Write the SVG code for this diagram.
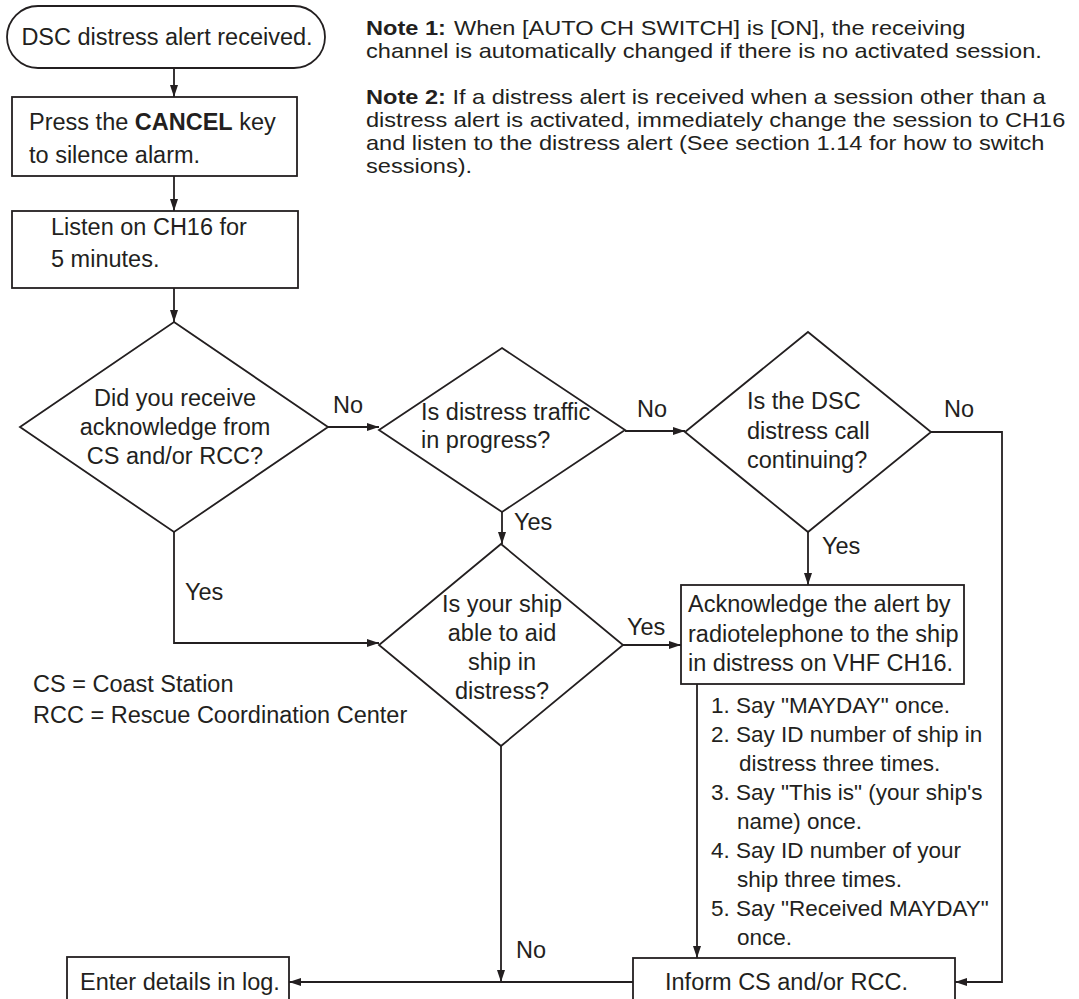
<svg xmlns="http://www.w3.org/2000/svg" width="1079" height="999" viewBox="0 0 1079 999">
<defs>
<marker id="ah" markerWidth="12" markerHeight="8" refX="12" refY="4" orient="auto" markerUnits="userSpaceOnUse">
<path d="M0,0 L12,4 L0,8 Z" fill="#231f20"/>
</marker>
<style>
.t{font-family:"Liberation Sans",Arial,sans-serif;font-size:23.5px;fill:#231f20}
.n{font-family:"Liberation Sans",Arial,sans-serif;font-size:20.5px;fill:#231f20}
.li{font-family:"Liberation Sans",Arial,sans-serif;font-size:22.5px;fill:#231f20}
.c{text-anchor:middle}
.b{font-weight:bold}
.s{fill:#fff;stroke:#231f20;stroke-width:1.8}
.l{fill:none;stroke:#231f20;stroke-width:1.8}
.a{fill:none;stroke:#231f20;stroke-width:1.8;marker-end:url(#ah)}
</style>
</defs>
<rect width="1079" height="999" fill="#fff"/>

<g id="notes" transform="translate(366,0) scale(1.15,1)">
<text class="n" x="0" y="35"><tspan class="b">Note 1:</tspan><tspan dx="7">When [AUTO CH SWITCH] is [ON], the receiving</tspan></text>
<text class="n" x="0" y="58">channel is automatically changed if there is no activated session.</text>
<text class="n" x="0" y="104"><tspan class="b">Note 2:</tspan> If a distress alert is received when a session other than a</text>
<text class="n" x="0" y="127">distress alert is activated, immediately change the session to CH16</text>
<text class="n" x="0" y="150">and listen to the distress alert (See section 1.14 for how to switch</text>
<text class="n" x="0" y="173">sessions).</text>
</g>

<g id="legend">
<text class="t" x="33" y="692">CS = Coast Station</text>
<text class="t" x="33" y="723">RCC = Rescue Coordination Center</text>
</g>

<g id="connectors">
<line class="a" x1="174" y1="68" x2="174" y2="97"/>
<line class="a" x1="174" y1="176" x2="174" y2="211"/>
<line class="a" x1="174" y1="288" x2="174" y2="322"/>
<line class="a" x1="328" y1="427" x2="379" y2="427"/>
<line class="a" x1="625" y1="431" x2="685" y2="431"/>
<polyline class="a" points="931,432 1002,432 1002,982 955,982"/>
<line class="a" x1="808" y1="532" x2="808" y2="585"/>
<polyline class="a" points="174,532 174,643 379,643"/>
<line class="a" x1="502" y1="512" x2="502" y2="544"/>
<line class="a" x1="623" y1="645" x2="681" y2="645"/>
<line class="a" x1="697" y1="684" x2="697" y2="958"/>
<line class="a" x1="501" y1="746" x2="501" y2="982"/>
<line class="a" x1="633" y1="982" x2="289" y2="982"/>
<text class="t" x="333" y="413">No</text>
<text class="t" x="637" y="417">No</text>
<text class="t" x="944" y="417">No</text>
<text class="t" x="822" y="554">Yes</text>
<text class="t" x="514" y="530">Yes</text>
<text class="t" x="185" y="600">Yes</text>
<text class="t" x="627" y="635">Yes</text>
<text class="t" x="516" y="958">No</text>
</g>

<g id="start">
<rect class="s" x="7" y="6" width="318" height="62" rx="31" ry="31"/>
<text class="t c" x="167" y="45">DSC distress alert received.</text>
</g>

<g id="cancel">
<rect class="s" x="12" y="97" width="285" height="79"/>
<text class="t" x="29" y="130">Press the <tspan class="b">CANCEL</tspan> key</text>
<text class="t" x="29" y="163">to silence alarm.</text>
</g>

<g id="listen">
<rect class="s" x="12" y="211" width="286" height="77"/>
<text class="t" x="51" y="235">Listen on CH16 for</text>
<text class="t" x="51" y="267">5 minutes.</text>
</g>

<g id="d1">
<polygon class="s" points="174,322 328,427 174,532 20,427"/>
<text class="t c" x="175" y="406">Did you receive</text>
<text class="t c" x="175" y="435">acknowledge from</text>
<text class="t c" x="175" y="464">CS and/or RCC?</text>
</g>

<g id="d2">
<polygon class="s" points="502,348 625,430 502,512 379,430"/>
<text class="t" x="421" y="420">Is distress traffic</text>
<text class="t" x="421" y="448">in progress?</text>
</g>

<g id="d3">
<polygon class="s" points="808,332 931,432 808,532 685,432"/>
<text class="t" x="747" y="409">Is the DSC</text>
<text class="t" x="747" y="439">distress call</text>
<text class="t" x="747" y="468">continuing?</text>
</g>

<g id="d4">
<polygon class="s" points="501,544 623,645 501,746 379,645"/>
<text class="t c" x="502" y="612">Is your ship</text>
<text class="t c" x="502" y="641">able to aid</text>
<text class="t c" x="502" y="670">ship in</text>
<text class="t c" x="502" y="699">distress?</text>
</g>

<g id="ack">
<rect class="s" x="681" y="585" width="283" height="99"/>
<text class="t" x="688" y="612">Acknowledge the alert by</text>
<text class="t" x="688" y="642">radiotelephone to the ship</text>
<text class="t" x="688" y="671">in distress on VHF CH16.</text>
</g>

<g id="steps">
<text class="li" x="711" y="713">1. Say "MAYDAY" once.</text>
<text class="li" x="711" y="742">2. Say ID number of ship in</text>
<text class="li" x="739" y="771">distress three times.</text>
<text class="li" x="711" y="800">3. Say "This is" (your ship's</text>
<text class="li" x="737" y="829">name) once.</text>
<text class="li" x="711" y="858">4. Say ID number of your</text>
<text class="li" x="737" y="887">ship three times.</text>
<text class="li" x="711" y="916">5. Say "Received MAYDAY"</text>
<text class="li" x="737" y="945">once.</text>
</g>

<g id="log">
<rect class="s" x="67" y="957" width="222" height="60"/>
<text class="t" x="80" y="990">Enter details in log.</text>
</g>

<g id="inform">
<rect class="s" x="633" y="958" width="322" height="60"/>
<text class="t" x="665" y="990">Inform CS and/or RCC.</text>
</g>
</svg>
